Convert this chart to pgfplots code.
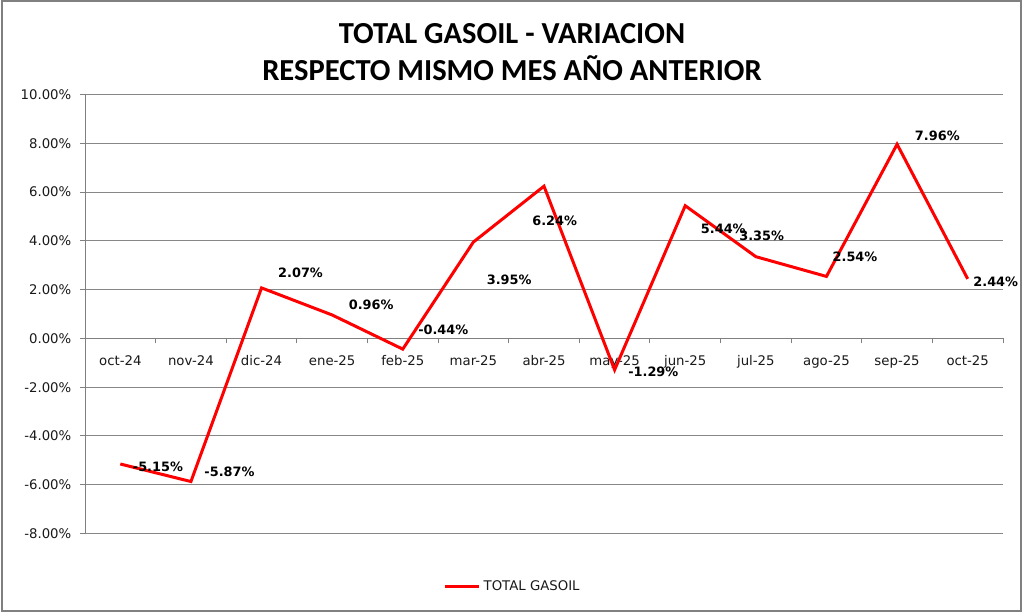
\documentclass[border=0pt]{standalone}
\usepackage{fontspec}
\setmainfont{DejaVu Sans}
\newfontfamily\titlefont{Carlito}
\usepackage{pgfplots}
\pgfplotsset{compat=1.18}
\usepackage{pgfplotstable}

\pgfplotstableread{
x y
0 -5.15
1 -5.87
2 2.07
3 0.96
4 -0.44
5 3.95
6 6.24
7 -1.29
8 5.44
9 3.35
10 2.54
11 7.96
12 2.44
}\datatable

\pgfplotstableread{
x y lab
0.533 -5.27 -5.15
1.546 -5.49 -5.87
2.552 2.705 2.07
3.553 1.373 0.96
4.574 0.336 -0.44
5.507 2.40 3.95
6.151 4.81 6.24
7.548 -1.373 -1.29
8.539 4.48 5.44
9.083 4.21 3.35
10.404 3.33 2.54
11.57 8.29 7.96
12.397 2.34 2.44
}\labtable

\begin{document}
\begin{tikzpicture}
\useasboundingbox (0bp,0bp) rectangle (768bp,459bp);
\draw[color=black!50, line width=1.5bp] (1.125bp,1.125bp) rectangle (765.75bp,457.875bp);
\node[font=\titlefont\bfseries\fontsize{23}{27.75}\selectfont, align=center] at (384bp,419.8bp) {TOTAL GASOIL - VARIACION\\RESPECTO MISMO MES AÑO ANTERIOR};
\begin{axis}[
  at={(63.75bp,58.875bp)}, anchor=south west,
  scale only axis, width=688.5bp, height=329.25bp,
  xmin=-0.5, xmax=12.5, ymin=-8, ymax=10,
  axis x line*=middle, axis y line*=left,
  hide obscured x ticks=false, hide obscured y ticks=false,
  axis line style={color=black!50, line width=0.75bp},
  xtick={0,...,12},
  xticklabels={oct-24,nov-24,dic-24,ene-25,feb-25,mar-25,abr-25,may-25,jun-25,jul-25,ago-25,sep-25,oct-25},
  minor xtick={-0.5,0.5,1.5,2.5,3.5,4.5,5.5,6.5,7.5,8.5,9.5,10.5,11.5,12.5},
  every major x tick/.style={draw=none},
  every minor x tick/.style={color=black!50, line width=0.75bp},
  ytick={-8,-6,...,10},
  every major y tick/.style={color=black!50, line width=0.75bp},
  tick align=outside,
  major tick length=3.75bp, minor tick length=3.75bp,
  ymajorgrids,
  grid style={color=black!47, line width=0.75bp},
  yticklabel={\pgfmathprintnumber[fixed,fixed zerofill,precision=2,assume math mode=true]{\tick}\%},
  tick label style={font=\fontsize{10}{12}\selectfont, color=black!90},
  yticklabel style={xshift=-3bp},
  xticklabel style={yshift=-5.5bp},
  legend style={at={(0.466,-0.12)}, anchor=center, draw=none, fill=none, font=\fontsize{10}{12}\selectfont, text=black!90},
  legend image code/.code={\draw[#1] (0bp,0bp) -- (26bp,0bp);},
  clip=false,
]
\addplot[color=red, line width=2.25bp, mark=none] table[x=x,y=y]{\datatable};
\addlegendentry{TOTAL GASOIL}
\addplot[draw=none, mark=none, forget plot,
  nodes near coords={\pgfplotspointmeta\%},
  point meta=explicit symbolic,
  nodes near coords style={anchor=center, inner sep=0pt, font=\bfseries\fontsize{9.7}{11}\selectfont, text=black}]
  table[x=x,y=y,meta=lab]{\labtable};
\end{axis}
\end{tikzpicture}
\end{document}
